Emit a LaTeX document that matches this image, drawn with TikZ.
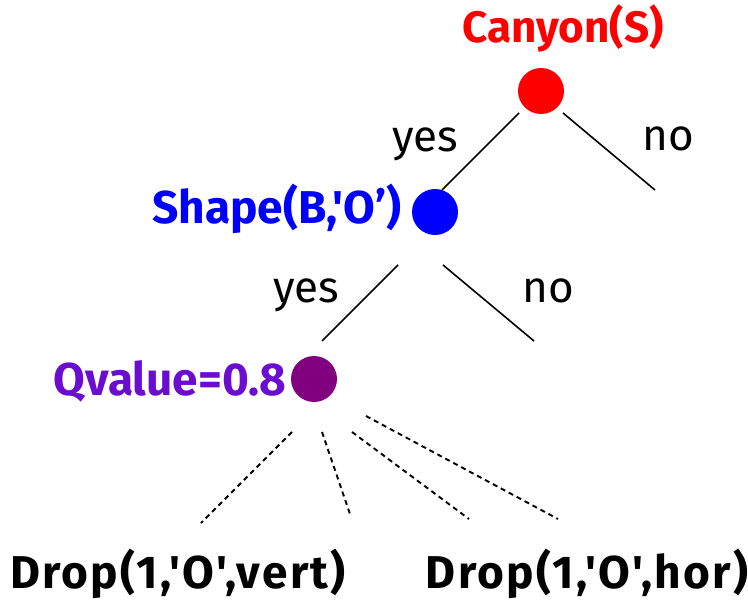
\documentclass[tikz,border=0pt]{standalone}
\usepackage{fontspec}
\newfontfamily\cfont{Fira Sans}
\newfontfamily\cfontsp{Fira Sans}[LetterSpace=5]
\definecolor{cred}{HTML}{FF0000}
\definecolor{cblue}{HTML}{0000FF}
\definecolor{cpurp}{HTML}{800080}
\definecolor{cviol}{HTML}{6A0DD0}
\tikzset{
  dot/.style={circle,fill,inner sep=0pt,minimum size=46pt},
  lbl/.style={anchor=base,inner sep=0pt,font=\cfont\bfseries\fontsize{44}{48}\selectfont},
  lblw/.style={anchor=base,inner sep=0pt,font=\cfont\bfseries\fontsize{46}{50}\selectfont},
  lbld/.style={anchor=base,inner sep=0pt,font=\cfontsp\bfseries\fontsize{46}{50}\selectfont},
  ans/.style={anchor=base,inner sep=0pt,font=\cfont\fontsize{44}{48}\selectfont},
  edge/.style={line width=1.6pt,black},
  dedge/.style={line width=1.9pt,black,dash pattern=on 5pt off 4pt}
}
\begin{document}
\begin{tikzpicture}[x=1pt,y=-1pt]
\useasboundingbox (0,0) rectangle (748,602);
% nodes
\node[dot,cred]  (red)   at (541,91) {};
\node[dot,cblue] (blue)  at (435,212) {};
\node[dot,cpurp] (purp)  at (314,379) {};
\node[lbl,text=cred]   (tcan) at (563,43)  {Canyon(S)};
\node[lblw,text=cblue] (tsha) at (277,223) {Shape(B,'O’)};
\node[lblw,text=cviol] (tqv)  at (170,395) {Qvalue=0.8};
\node[lbld]            (tdv)  at (178,588) {Drop(1,'O',vert)};
\node[lbld]            (tdh)  at (587,588) {Drop(1,'O',hor)};
\node[ans] (yes1) at (425,152) {yes};
\node[ans] (no1)  at (668,150) {no};
\node[ans] (yes2) at (306,302) {yes};
\node[ans] (no2)  at (548,302) {no};
% free ends
\coordinate (n1) at (655,190);
\coordinate (n2) at (534,341);
\coordinate (d1) at (201,523);
\coordinate (d2) at (351,517);
\coordinate (d3) at (469,519);
\coordinate (d4) at (558,519);
% connectors
\draw[edge] ([shift={(-22,22)}]red.center) -- ([shift={(7,-22)}]blue.center);
\draw[edge] ([shift={(22,22)}]red.center) -- (n1);
\draw[edge] ([shift={(-37,53)}]blue.center) -- ([shift={(8,-38)}]purp.center);
\draw[edge] ([shift={(8,53)}]blue.center) -- (n2);
\draw[dedge] ([shift={(-22,53)}]purp.center) -- (d1);
\draw[dedge] ([shift={(8,53)}]purp.center) -- (d2);
\draw[dedge] ([shift={(38,53)}]purp.center) -- (d3);
\draw[dedge] ([shift={(52,37)}]purp.center) -- (d4);
\end{tikzpicture}
\end{document}
